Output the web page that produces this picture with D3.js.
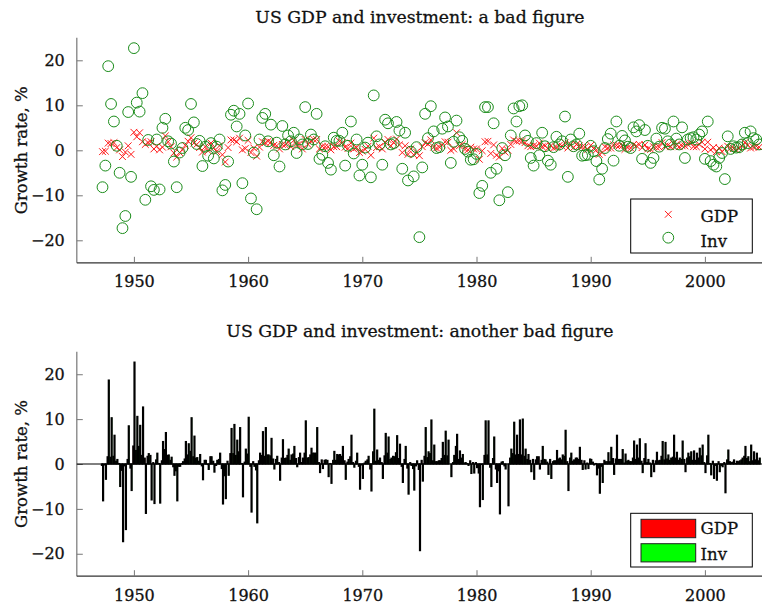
<!DOCTYPE html>
<html>
<head>
<meta charset="utf-8">
<script src="https://cdn.jsdelivr.net/npm/d3@7"></script>
<style>
  html, body { margin: 0; padding: 0; background: #fff; }
  svg text { font-family: "DejaVu Serif", "Liberation Serif", serif; fill: #111; stroke: #111; stroke-width: 0.3px; }
</style>
</head>
<body>
<svg id="chart" width="762" height="605"></svg>
<script>
// ---- Data: US quarterly growth rates (%), 1947Q2 .. 2004Q4 ----
const firstQuarter = 1947.25;   // 1947Q2
const quarterStep = 0.25;

const gdp = [
  -0.3, -0.2, 1.6,
  1.5, 1.7, 0.6, 0.1,
  -1.4, -0.4, 1.0, -0.9,
  4.0, 3.0, 3.9, 1.9,
  1.3, 1.7, 1.9, 0.3,
  0.9, 0.1, 0.7, 3.2,
  1.9, 0.8, -0.6, -1.5,
  -0.5, 0.1, 1.1, 2.0,
  2.8, 1.6, 1.3, 0.6,
  -0.4, 0.8, -0.1, 1.6,
  0.6, -0.3, 1.0, -1.0,
  -2.6, 0.6, 2.3, 2.3,
  1.9, 2.7, 0.1, 0.4,
  2.2, -0.5, 0.5, -1.3,
  0.7, 1.9, 1.7, 2.0,
  1.8, 1.1, 1.0, 0.3,
  1.3, 1.2, 1.9, 0.8,
  2.2, 1.2, 1.4, 0.3,
  2.4, 1.3, 2.0, 2.4,
  2.4, 0.3, 0.9, 0.8,
  0.8, 0.1, 0.8, 0.8,
  2.0, 1.7, 0.7, 0.4,
  1.6, 0.3, 0.6, -0.5,
  -0.2, 0.2, 0.9, -1.1,
  2.7, 0.6, 0.8, 0.3,
  1.8, 2.4, 1.0, 1.7,
  2.5, 1.2, -0.5, 1.0,
  -0.9, 0.3, -1.0, -0.4,
  -1.2, 0.8, 1.7, 1.4,
  2.3, 0.7, 0.5, 0.7,
  1.2, 1.9, 1.8, 0.0,
  0.3, 3.9, 1.0, 1.3,
  0.2, 0.1, 0.7, 0.3,
  0.3, -2.0, -0.1, 1.9,
  2.0, -0.7, 1.2, -1.1,
  -1.5, 0.4, -0.4, 0.0,
  1.3, 2.3, 2.0, 2.1,
  2.0, 1.7, 1.0, 0.8,
  1.0, 0.9, 1.6, 0.8,
  1.0, 0.4, 1.0, 0.5,
  0.7, 1.1, 0.9, 1.7,
  0.5, 1.3, 0.6, 1.3,
  1.0, 0.8, 0.7, 0.2,
  1.1, 0.4, 0.1, -0.9,
  -0.5, 0.8, 0.5, 0.5,
  1.2, 1.1, 1.0, 1.0,
  0.2, 0.6, 0.5, 1.3,
  1.0, 1.3, 0.6, 1.2,
  0.3, 0.2, 0.8, 0.7,
  0.7, 1.7, 0.9, 1.1,
  0.8, 1.5, 1.3, 0.8,
  1.0, 1.0, 1.3, 1.6,
  0.8, 0.8, 1.3, 1.8,
  0.3, 1.8, 0.1, 0.6,
  -0.3, 0.5, -0.3, 0.3,
  0.9, 0.5, 0.4, 0.1,
  0.5, 0.9, 1.7, 1.2,
  0.5, 0.7, 0.9, 0.7
];

const inv = [
  -8.2, -3.4, 18.7,
  10.3, 6.4, 1.0, -5.0,
  -17.3, -14.6, 8.5, -5.9,
  22.7, 10.6, 8.6, 12.7,
  -11.0, 2.3, -8.0, -8.8,
  2.4, -8.7, 5.0, 7.0,
  2.0, 1.5, -2.5, -8.2,
  -0.5, 0.5, 5.0, 4.5,
  10.3, 6.2, 1.4, 2.1,
  -3.5, 0.8, -1.2, 1.6,
  -1.8, 0.8, 2.4, -8.9,
  -7.7, -2.5, 7.9, 8.8,
  5.3, 8.1, -7.3, 3.3,
  10.4, -10.7, -0.5, -13.1,
  2.4, 7.2, 8.1, 2.0,
  5.7, -1.1, 1.7, -3.6,
  5.4, 1.3, 3.3, 2.0,
  3.9, -0.6, 2.4, 1.3,
  9.6, 1.4, 3.5, 2.4,
  8.1, -1.9, -1.0, 0.9,
  -2.8, -4.3, 2.8, 2.1,
  2.1, 3.9, -3.4, 1.0,
  6.4, -0.7, 2.4, -5.6,
  -3.2, 0.6, 1.7, -6.0,
  12.2, 3.1, 1.3, -3.2,
  6.8, 6.0, 1.3, 1.6,
  6.3, 4.4, -4.1, 3.9,
  -6.7, -0.3, -5.8, 0.7,
  -19.3, -3.8, 8.1, 2.7,
  9.8, 4.2, 0.5, 0.7,
  4.8, 7.3, 5.3, -2.8,
  1.9, 6.6, 2.9, 2.1,
  0.3, -0.3, -2.1, -2.0,
  -0.8, -9.5, -7.9, 9.6,
  9.6, -5.0, 6.0, -4.1,
  -11.1, 0.5, -1.1, -9.3,
  3.3, 9.3, 6.4, 9.8,
  10.0, 3.3, 2.1, -1.7,
  -3.4, 1.6, -1.1, 3.9,
  0.9, -2.3, -3.2, 0.7,
  3.0, 1.3, 2.0, 7.5,
  -5.9, 2.4, 0.9, 1.3,
  3.7, -1.2, -1.1, -1.0,
  1.0, -0.2, -2.4, -6.5,
  -4.1, 0.5, 2.5, 3.7,
  -2.3, 6.4, 1.0, 3.2,
  2.2, 0.8, 0.5, 5.1,
  4.2, 5.6, -1.9, 4.5,
  1.0, -2.8, -1.7, 2.6,
  0.8, 5.0, 4.8, 2.0,
  1.3, 6.4, 2.6, 1.3,
  5.1, -1.7, 2.4, 2.7,
  2.9, 2.4, 3.5, 4.2,
  -1.9, 6.4, -2.4, -3.2,
  -3.6, -1.7, -0.6, -6.4,
  3.1, 0.3, 0.9, 0.6,
  0.7, 1.3, 3.9, 1.6,
  4.2, 2.7, 2.4, 1.3
];

const seriesNames = ["GDP", "Inv"];
const seriesColors = ["#ff0000", "#00ff00"];
const markerColors = ["#ff1a1a", "#1a8c1a"];
const xTicks = [1950, 1960, 1970, 1980, 1990, 2000];
const yTicks = [-20, -10, 0, 10, 20];
const titles = ["US GDP and investment: a bad figure", "US GDP and investment: another bad figure"];
const yLabel = "Growth rate, %";

const dates = gdp.map((_, i) => firstQuarter + i * quarterStep);
const rows = dates.map((t, i) => ({ t, gdp: gdp[i], inv: inv[i] }));

// ---- Layout ----
const svg = d3.select("#chart");
const left = 76.8, right = 762;
const x = d3.scaleLinear().domain([1945, 2005]).range([left, right]);
const panels = [
  { top: 37.8, bottom: 262.8, titleY: 22.7 },
  { top: 351.8, bottom: 576.2, titleY: 337.3 }
];
panels.forEach(p => { p.y = d3.scaleLinear().domain([-25, 25]).range([p.bottom, p.top]); });

function drawAxes(p) {
  const g = svg.append("g");
  const ya = g.append("g").attr("transform", `translate(${left},0)`)
    .call(d3.axisLeft(p.y).tickValues(yTicks).tickSize(-6).tickPadding(12));
  ya.select(".domain").attr("stroke", "#808080").attr("stroke-width", 1.3)
    .attr("d", `M0,${p.top}V${p.bottom}`);
  ya.selectAll(".tick line").attr("stroke", "#777");
  ya.selectAll(".tick text").attr("font-size", 16).attr("font-family", "DejaVu Serif").attr("fill", "#111");
  const xa = g.append("g").attr("transform", `translate(0,${p.bottom})`)
    .call(d3.axisBottom(x).tickValues(xTicks).tickFormat(d3.format("d")).tickSize(-6).tickPadding(12));
  xa.select(".domain").attr("stroke", "#333").attr("stroke-width", 1.2)
    .attr("d", `M${left},0H${right}`);
  xa.selectAll(".tick line").attr("stroke", "#777");
  xa.selectAll(".tick text").attr("font-size", 16).attr("font-family", "DejaVu Serif").attr("fill", "#111")
    .attr("dy", "0.78em");
  svg.append("text").attr("x", (left + right) / 2 + 0.5).attr("y", p.titleY)
    .attr("text-anchor", "middle").attr("font-size", 17.3).text(p.title);
  svg.append("text")
    .attr("transform", `translate(27,${(p.top + p.bottom) / 2}) rotate(-90)`)
    .attr("text-anchor", "middle").attr("font-size", 16.5).text(yLabel);
}

panels[0].title = titles[0];
panels[1].title = titles[1];

// ---- Top panel: markers ----
const P0 = panels[0];
drawAxes(P0);
const m = svg.append("g");
const s = 3.4;
m.selectAll("path.gdp").data(rows).join("path")
  .attr("class", "gdp")
  .attr("d", d => {
    const cx = x(d.t), cy = P0.y(d.gdp);
    return `M${cx - s},${cy - s}L${cx + s},${cy + s}M${cx - s},${cy + s}L${cx + s},${cy - s}`;
  })
  .attr("stroke", markerColors[0]).attr("stroke-width", 1).attr("fill", "none");
m.selectAll("circle.inv").data(rows).join("circle")
  .attr("class", "inv")
  .attr("cx", d => x(d.t)).attr("cy", d => P0.y(d.inv)).attr("r", 5.4)
  .attr("fill", "none").attr("stroke", markerColors[1]).attr("stroke-width", 1);

// top legend
const lg0 = svg.append("g");
lg0.append("rect").attr("x", 630.7).attr("y", 199).attr("width", 121.6).attr("height", 54)
  .attr("fill", "#fff").attr("stroke", "#000").attr("stroke-width", 1);
{
  const cx = 668.3, cy = 214.3;
  lg0.append("path").attr("d", `M${cx - s},${cy - s}L${cx + s},${cy + s}M${cx - s},${cy + s}L${cx + s},${cy - s}`)
    .attr("stroke", markerColors[0]).attr("stroke-width", 1);
  lg0.append("circle").attr("cx", cx).attr("cy", 237.7).attr("r", 5.4)
    .attr("fill", "none").attr("stroke", markerColors[1]).attr("stroke-width", 1);
  lg0.append("text").attr("x", 700.5).attr("y", 221.5).attr("font-size", 16.5).text(seriesNames[0]);
  lg0.append("text").attr("x", 700.5).attr("y", 246.8).attr("font-size", 16.5).text(seriesNames[1]);
}

// ---- Bottom panel: grouped bars ----
const P1 = panels[1];
drawAxes(P1);
const bw = 1.0;
const b = svg.append("g");
const keys = ["gdp", "inv"];
keys.forEach((k, j) => {
  b.selectAll(`rect.${k}`).data(rows).join("rect")
    .attr("class", k)
    .attr("x", d => x(d.t) + (j === 0 ? -bw - 0.1 : 0.1))
    .attr("width", bw)
    .attr("y", d => Math.min(P1.y(d[k]), P1.y(0)))
    .attr("height", d => Math.abs(P1.y(d[k]) - P1.y(0)))
    .attr("fill", seriesColors[j]).attr("stroke", "#000").attr("stroke-width", 1.2);
});
svg.append("line").attr("x1", left).attr("x2", right).attr("y1", P1.y(0)).attr("y2", P1.y(0))
  .attr("stroke", "#000").attr("stroke-width", 1);

// bottom legend
const lg1 = svg.append("g");
lg1.append("rect").attr("x", 630.7).attr("y", 513.3).attr("width", 121.6).attr("height", 53.7)
  .attr("fill", "#fff").attr("stroke", "#000").attr("stroke-width", 1);
lg1.append("rect").attr("x", 641).attr("y", 519.3).attr("width", 54.7).attr("height", 18.4)
  .attr("fill", seriesColors[0]).attr("stroke", "#222").attr("stroke-width", 1);
lg1.append("rect").attr("x", 641).attr("y", 543.7).attr("width", 54.7).attr("height", 18.2)
  .attr("fill", seriesColors[1]).attr("stroke", "#222").attr("stroke-width", 1);
lg1.append("text").attr("x", 700.5).attr("y", 534.3).attr("font-size", 16.5).text(seriesNames[0]);
lg1.append("text").attr("x", 700.5).attr("y", 559.5).attr("font-size", 16.5).text(seriesNames[1]);
</script>
</body>
</html>
